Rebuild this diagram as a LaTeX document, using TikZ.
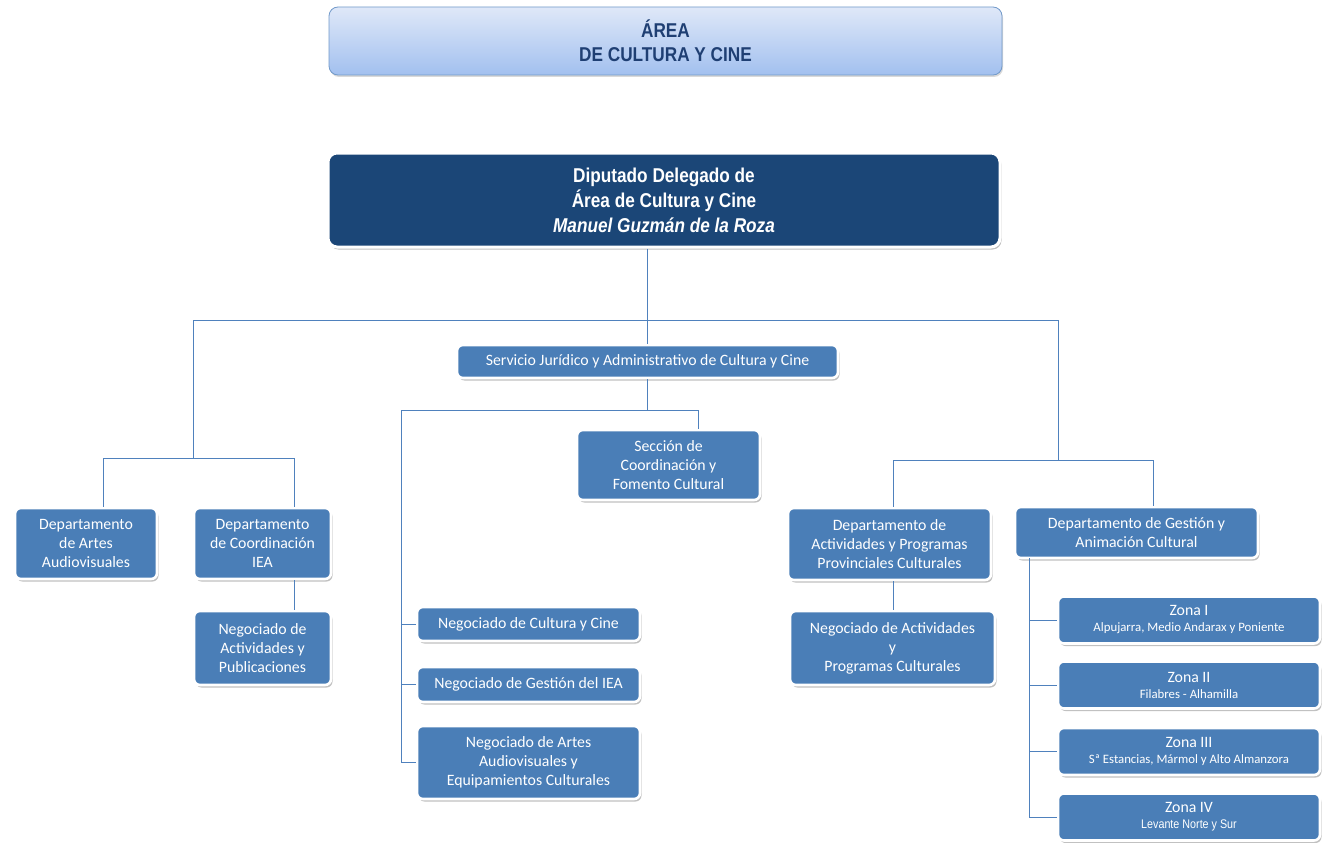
\documentclass[tikz,border=0pt]{standalone}
\usepackage{fontspec}
\setmainfont{Carlito}
\newfontfamily\headfont[FakeStretch=0.86]{Liberation Sans}
\usetikzlibrary{shadows}
\definecolor{boxblue}{HTML}{4A7EB7}
\definecolor{navy}{HTML}{1B4677}
\definecolor{linkblue}{HTML}{4F81BD}
\definecolor{titletext}{HTML}{1F3F73}
\definecolor{titletop}{HTML}{DFE8F8}
\definecolor{titlebot}{HTML}{A2C0EF}
\tikzset{
  unit/.style={rounded corners=6pt, fill=boxblue, draw=white, line width=2.6pt,
    text=white, align=center, inner sep=0pt,
    font=\fontsize{15.8}{19}\selectfont,
    drop shadow={shadow xshift=1.5pt, shadow yshift=-2.5pt, opacity=0.35, fill=black!70}},
  conn/.style={draw=linkblue, line width=1pt},
  zona/.style={unit, minimum width=262pt, minimum height=47pt}
}
\newcommand{\sub}[1]{\\[-3pt]{\fontsize{12.8}{14}\selectfont #1}}
\begin{document}
\begin{tikzpicture}[x=1pt,y=1pt]
    \useasboundingbox (0,0) rectangle (1331,-843);
    % top of the chart
    \node [rounded corners=9pt, draw=linkblue!80, line width=0.8pt,
      top color=titletop, bottom color=titlebot,
      drop shadow={shadow xshift=1pt, shadow yshift=-2pt, opacity=0.3},
      minimum width=673pt, minimum height=68pt, align=center, text=titletext,
      font=\headfont\bfseries\fontsize{20}{24}\selectfont] (area) at (665.5,-41) {ÁREA\\DE CULTURA Y CINE};
    \node [unit, fill=navy, line width=3pt, rounded corners=9pt, minimum width=672pt, minimum height=94pt,
      font=\headfont\bfseries\fontsize{20}{25}\selectfont] (dip) at (664,-200)
      {Diputado Delegado de\\Área de Cultura y Cine\\{\itshape Manuel Guzmán de la Roza}};
    % second level
    \node [unit, minimum width=381pt, minimum height=33pt] (serv) at (647.5,-361.5)
      {Servicio Jurídico y Administrativo de Cultura y Cine};
    \node [unit, minimum width=183pt, minimum height=70pt] (secc) at (668.5,-465)
      {Sección de\\Coordinación y\\Fomento Cultural};
    \node [unit, minimum width=142pt, minimum height=71pt] (artes) at (86,-543.5)
      {Departamento\\de Artes\\Audiovisuales};
    \node [unit, minimum width=137pt, minimum height=71pt] (coord) at (262.5,-543.5)
      {Departamento\\de Coordinación\\IEA};
    \node [unit, minimum width=137pt, minimum height=74pt] (negpub) at (262.5,-648)
      {Negociado de\\Actividades y\\Publicaciones};
    \node [unit, minimum width=223pt, minimum height=34pt] (negcult) at (528.5,-624)
      {Negociado de Cultura y Cine};
    \node [unit, minimum width=223pt, minimum height=35pt] (neggest) at (528.5,-684.5)
      {Negociado de Gestión del IEA};
    \node [unit, minimum width=223pt, minimum height=73pt] (negart) at (528.5,-762.5)
      {Negociado de Artes\\Audiovisuales y\\Equipamientos Culturales};
    \node [unit, minimum width=203pt, minimum height=72pt] (dact) at (889.5,-544)
      {Departamento de\\Actividades y Programas\\Provinciales Culturales};
    \node [unit, minimum width=205pt, minimum height=74pt] (negprog) at (892.5,-648)
      {Negociado de Actividades\\y\\ Programas Culturales};
    \node [unit, minimum width=243pt, minimum height=51pt] (dges) at (1136.5,-532.5)
      {Departamento de Gestión y\\Animación Cultural};
    % zonas
    \node [zona] (z1) at (1189,-620) {Zona I\sub{Alpujarra, Medio Andarax y Poniente}};
    \node [zona] (z2) at (1189,-685) {Zona II\sub{Filabres - Alhamilla}};
    \node [zona] (z3) at (1189,-751.5) {Zona III\sub{Sª Estancias, Mármol y Alto Almanzora}};
    \node [zona] (z4) at (1189,-817) {Zona IV\\[-3pt]{\headfont\fontsize{12.5}{14}\selectfont Levante Norte y Sur}};
    % junctions
    \coordinate (busL) at (193,-320);
    \coordinate (busR) at (1058,-320);
    \coordinate (lA) at (103,-458);
    \coordinate (lB) at (294,-458);
    \coordinate (rA) at (893,-460);
    \coordinate (rB) at (1153,-460);
    \coordinate (sA) at (401,-410);
    \coordinate (sB) at (698,-410);
    \coordinate (gs) at (1029,-558);
    % connectors
    \draw [conn] (serv.north |- dip.south) -- (serv.north);
    \draw [conn] (busL) -- (busR);
    \draw [conn] (busL) -- (busL |- lA);
    \draw [conn] (lA) -- (lB);
    \draw [conn] (lA) -- (lA |- artes.north);
    \draw [conn] (lB) -- (lB |- coord.north);
    \draw [conn] (lB |- coord.south) -- (lB |- negpub.north);
    \draw [conn] (busR) -- (busR |- rA);
    \draw [conn] (rA) -- (rB);
    \draw [conn] (rA) -- (rA |- dact.north);
    \draw [conn] (rB) -- (rB |- dges.north);
    \draw [conn] (rA |- dact.south) -- (rA |- negprog.north);
    \draw [conn] (serv.south) -- (serv.south |- sA);
    \draw [conn] (sA) -- (sB);
    \draw [conn] (sB) -- (sB |- secc.north);
    \draw [conn] (sA) -- (sA |- negart.west);
    \draw [conn] (sA |- negcult.west) -- (negcult.west);
    \draw [conn] (sA |- neggest.west) -- (neggest.west);
    \draw [conn] (sA |- negart.west) -- (negart.west);
    \draw [conn] (gs) -- (gs |- z4.west);
    \foreach \z in {z1,z2,z3,z4}
      \draw [conn] (gs |- \z.west) -- (\z.west);
\end{tikzpicture}
\end{document}
